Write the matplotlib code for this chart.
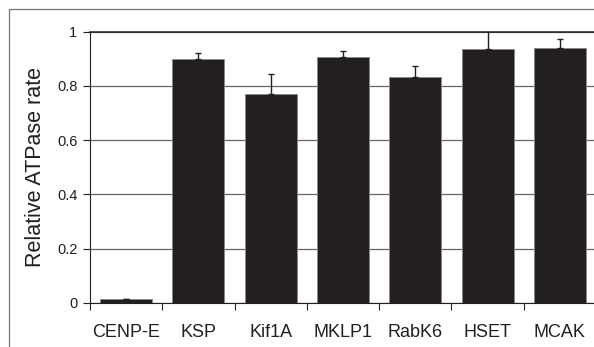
import matplotlib.pyplot as plt
import numpy as np
from matplotlib.patches import Rectangle

motores = ["CENP-E", "KSP", "Kif1A", "MKLP1", "RabK6", "HSET", "MCAK"]
atpase = [0.012, 0.898, 0.770, 0.905, 0.834, 0.935, 0.941]
erro = [0.002, 0.022, 0.073, 0.024, 0.041, 0.069, 0.032]
yticks = [0, 0.2, 0.4, 0.6, 0.8, 1]
ylabels = ["0", "0.2", "0.4", "0.6", "0.8", "1"]

plt.rcParams['font.family'] = ['Liberation Sans', 'DejaVu Sans']

fig = plt.figure(figsize=(5.94, 3.47), dpi=100)
ax = fig.add_axes([90/594, 1 - 302.7/347, 506/594, 271/347])

x = np.arange(len(motores))
ax.bar(x, atpase, width=0.72, color='#231f20', edgecolor='#888888', linewidth=0.6, zorder=3)
ax.errorbar(x, atpase, yerr=[np.zeros(len(erro)), erro], fmt='none',
            ecolor='#231f20', elinewidth=1, capsize=2.5, capthick=1, zorder=4)

ax.set_xlim(-0.5, len(motores) - 0.5)
ax.set_ylim(0, 1)
ax.set_yticks(yticks)
ax.set_yticklabels(ylabels, fontsize=10.5, color='#231f20')
ax.set_xticks(np.arange(len(motores) + 1) - 0.5, minor=False)
ax.set_xticklabels([])
ax.set_xticks(x, minor=True)
ax.set_xticklabels(motores, minor=True, fontsize=13, color='#231f20')
ax.tick_params(axis='x', which='minor', length=0, pad=15)
ax.tick_params(axis='x', which='major', length=5, width=0.8, color='#231f20', direction='out')
ax.tick_params(axis='y', length=5, width=0.8, color='#231f20', pad=4)

ax.set_ylabel('Relative ATPase rate', fontsize=15.5, color='#231f20', labelpad=8)
ax.yaxis.grid(True, color='#666666', linewidth=0.9, zorder=0)
ax.spines['right'].set_visible(False)
ax.spines['top'].set_color('#231f20')
ax.spines['left'].set_color('#231f20')
ax.spines['bottom'].set_color('#231f20')
ax.spines['top'].set_linewidth(1.1)

# moldura externa (so topo e esquerda aparecem)
fig.patches.append(Rectangle((9/594, -0.5), 2, 1.5 - 9/347, transform=fig.transFigure,
                             fill=False, edgecolor='#777777', linewidth=0.9))

fig.savefig('out.png', dpi=100)
